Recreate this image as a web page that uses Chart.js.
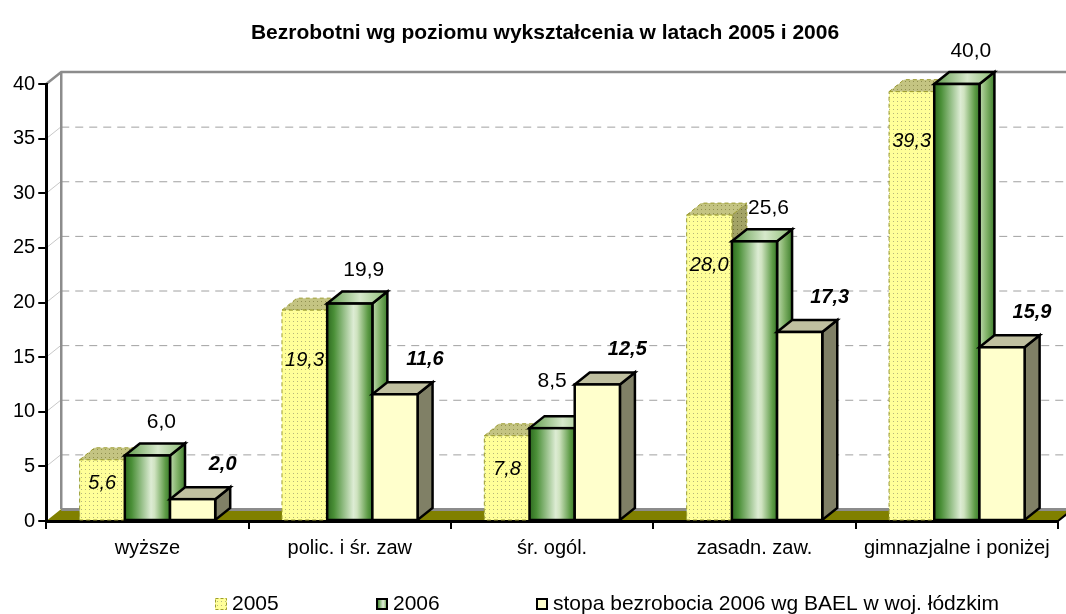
<!DOCTYPE html>
<html>
<head>
<meta charset="utf-8">
<script src="https://cdn.jsdelivr.net/npm/chart.js@4.4.0/dist/chart.umd.min.js"></script>
<style>
  html, body { margin: 0; padding: 0; background: #fff; }
  #wrap { width: 1066px; height: 614px; }
</style>
</head>
<body>
<div id="wrap"><canvas id="chart"></canvas></div>
<script>
// --- Data ---
const categories = ['wyższe', 'polic. i śr. zaw', 'śr. ogól.', 'zasadn. zaw.', 'gimnazjalne i poniżej'];
const values2005 = [5.6, 19.3, 7.8, 28.0, 39.3];
const values2006 = [6.0, 19.9, 8.5, 25.6, 40.0];
const valuesBael = [2.0, 11.6, 12.5, 17.3, 15.9];
const seriesNames = ['2005', '2006', 'stopa bezrobocia 2006 wg BAEL w woj. łódzkim'];
const chartTitle = 'Bezrobotni wg poziomu wykształcenia w latach 2005 i 2006';
const yMin = 0, yMax = 40, yStep = 5;

// --- Look ---
const FONT = "'Liberation Sans', Arial, sans-serif";
const DX = 15, DY = 12;          // 3D depth offset
const legendX = [215, 376, 536]; // legend item left edges
const legendY = 604;

function fmt(v) {
    return v.toFixed(1).replace('.', ',');
}

function dotCanvas(bg, dot) {
    const c = document.createElement('canvas');
    c.width = 4; c.height = 4;
    const g = c.getContext('2d');
    g.fillStyle = bg;
    g.fillRect(0, 0, 4, 4);
    g.fillStyle = dot;
    g.fillRect(1, 1, 1, 1);
    return c;
}

const dotsFront = dotCanvas('#FFFF99', '#B5B57A');
const dotsTop = dotCanvas('#C4C482', '#8F8F50');
const dotsSide = dotCanvas('#A3A366', '#6F6F3A');

function greenFront(ctx, x0, x1) {
    const g = ctx.createLinearGradient(x0, 0, x1, 0);
    g.addColorStop(0, '#2E6B20');
    g.addColorStop(0.15, '#4A8F37');
    g.addColorStop(0.58, '#DDECD4');
    g.addColorStop(0.66, '#CFE3C0');
    g.addColorStop(0.9, '#5C9A45');
    g.addColorStop(1, '#3A7A2A');
    return g;
}
function greenTop(ctx, x0, x1) {
    const g = ctx.createLinearGradient(x0, 0, x1, 0);
    g.addColorStop(0, '#5E9A48');
    g.addColorStop(0.55, '#D6E8CB');
    g.addColorStop(1, '#8CBC74');
    return g;
}
function greenSide(ctx, x0, x1) {
    const g = ctx.createLinearGradient(x0, 0, x1, 0);
    g.addColorStop(0, '#BFDAAE');
    g.addColorStop(0.5, '#7FB066');
    g.addColorStop(1, '#3F7F2D');
    return g;
}

function poly(ctx, pts) {
    ctx.beginPath();
    ctx.moveTo(pts[0][0], pts[0][1]);
    for (let i = 1; i < pts.length; i++) ctx.lineTo(pts[i][0], pts[i][1]);
    ctx.closePath();
}

// back wall, grid lines and floor
const wallPlugin = {
    id: 'wall',
    beforeDraw(chart) {
        const { ctx, chartArea: a, scales: { y } } = chart;
        ctx.save();
        ctx.fillStyle = '#fff';
        ctx.fillRect(0, 0, chart.width, chart.height);

        // floor
        ctx.fillStyle = '#808000';
        poly(ctx, [[a.left, a.bottom], [a.left + DX, a.bottom - DY], [a.right + DX, a.bottom - DY], [a.right, a.bottom]]);
        ctx.fill();

        const yTop = y.getPixelForValue(yMax);
        y.ticks.forEach(t => {
            const py = y.getPixelForValue(t.value);
            if (t.value === yMin || t.value === yMax) return;
            ctx.strokeStyle = '#c8c8c8';
            ctx.lineWidth = 1;
            ctx.setLineDash([]);
            ctx.beginPath();
            ctx.moveTo(a.left, py);
            ctx.lineTo(a.left + DX, py - DY);
            ctx.stroke();
            ctx.strokeStyle = '#a0a0a0';
            ctx.setLineDash([8, 6]);
            ctx.beginPath();
            ctx.moveTo(a.left + DX, py - DY + 0.5);
            ctx.lineTo(chart.width, py - DY + 0.5);
            ctx.stroke();
        });
        ctx.setLineDash([]);

        // wall outline
        ctx.strokeStyle = '#8c8c8c';
        ctx.lineWidth = 2.5;
        ctx.beginPath();
        ctx.moveTo(a.left, yTop);
        ctx.lineTo(a.left + DX, yTop - DY);
        ctx.lineTo(chart.width, yTop - DY);
        ctx.moveTo(a.left + DX, yTop - DY);
        ctx.lineTo(a.left + DX, a.bottom - DY);
        ctx.stroke();
        ctx.lineWidth = 3;
        ctx.beginPath();
        ctx.moveTo(a.left + DX, a.bottom - DY + 0.5);
        ctx.lineTo(chart.width, a.bottom - DY + 0.5);
        ctx.stroke();

        // floor right edge
        ctx.strokeStyle = '#000';
        ctx.lineWidth = 2;
        ctx.beginPath();
        ctx.moveTo(a.right, a.bottom);
        ctx.lineTo(a.right + DX, a.bottom - DY);
        ctx.stroke();
        ctx.restore();
    }
};

function drawBox(ctx, ds, x0, x1, yt, yb) {
    const side = [[x1, yt], [x1 + DX, yt - DY], [x1 + DX, yb - DY], [x1, yb]];
    const top = [[x0, yt], [x0 + DX, yt - DY], [x1 + DX, yt - DY], [x1, yt]];
    let fills, stroke, width, dash;
    if (ds === 0) {
        fills = [ctx.createPattern(dotsSide, 'repeat'), ctx.createPattern(dotsTop, 'repeat'), ctx.createPattern(dotsFront, 'repeat')];
        stroke = '#9C9C30'; width = 1; dash = [4, 3];
    } else if (ds === 1) {
        fills = [greenSide(ctx, x1, x1 + DX), greenTop(ctx, x0, x1 + DX), greenFront(ctx, x0, x1)];
        stroke = '#000'; width = 2.5; dash = [];
    } else {
        fills = ['#808066', '#C0C0A0', '#FFFFCC'];
        stroke = '#000'; width = 2.5; dash = [];
    }
    ctx.lineJoin = 'miter';
    ctx.strokeStyle = stroke;
    ctx.lineWidth = width;
    ctx.setLineDash(dash);
    [side, top].forEach((p, k) => {
        poly(ctx, p);
        ctx.fillStyle = fills[k];
        ctx.fill();
        ctx.stroke();
    });
    ctx.fillStyle = fills[2];
    ctx.fillRect(x0, yt, x1 - x0, yb - yt);
    ctx.strokeRect(x0, yt, x1 - x0, yb - yt);
    ctx.setLineDash([]);
}

// 3D bars and their value labels
const barsPlugin = {
    id: 'bars3d',
    afterDatasetsDraw(chart) {
        const ctx = chart.ctx;
        const metas = [0, 1, 2].map(i => chart.getDatasetMeta(i));
        ctx.save();
        for (let i = 0; i < categories.length; i++) {
            metas.forEach((m, d) => {
                const el = m.data[i];
                const x0 = el.x - el.width / 2, x1 = el.x + el.width / 2;
                drawBox(ctx, d, x0, x1, el.y, el.base);
            });
        }
        ctx.fillStyle = '#000';
        ctx.textAlign = 'center';
        ctx.textBaseline = 'middle';
        for (let i = 0; i < categories.length; i++) {
            const a = metas[0].data[i], b = metas[1].data[i], c = metas[2].data[i];
            ctx.font = 'italic 20px ' + FONT;
            ctx.fillText(fmt(values2005[i]), a.x, a.y + Math.min(0.4 * (a.base - a.y), 50));
            ctx.font = '21px ' + FONT;
            if (valuesBael[i] > values2006[i]) {
                ctx.fillText(fmt(values2006[i]), b.x, b.y - DY - 35);
            } else {
                ctx.fillText(fmt(values2006[i]), b.x + 14, b.y - DY - 21);
            }
            ctx.font = 'italic bold 20px ' + FONT;
            ctx.fillText(fmt(valuesBael[i]), c.x + 30, c.y - DY - 23);
        }
        ctx.restore();
    }
};

// title and legend
const textPlugin = {
    id: 'texts',
    afterDraw(chart) {
        const ctx = chart.ctx;
        ctx.save();
        ctx.fillStyle = '#000';
        ctx.textBaseline = 'middle';
        ctx.textAlign = 'center';
        ctx.font = 'bold 21px ' + FONT;
        ctx.fillText(chartTitle, 545, 33);

        ctx.textAlign = 'left';
        ctx.font = '21px ' + FONT;
        seriesNames.forEach((name, k) => {
            const bx = legendX[k], by = legendY - 6;
            if (k === 0) {
                ctx.fillStyle = ctx.createPattern(dotsFront, 'repeat');
                ctx.fillRect(bx, by, 12, 12);
                ctx.strokeStyle = '#9C9C30';
                ctx.lineWidth = 1;
                ctx.setLineDash([3, 2]);
                ctx.strokeRect(bx + 0.5, by + 0.5, 11, 11);
                ctx.setLineDash([]);
            } else {
                ctx.fillStyle = k === 1 ? greenFront(ctx, bx, bx + 12) : '#FFFFCC';
                ctx.fillRect(bx, by, 12, 12);
                ctx.strokeStyle = '#000';
                ctx.lineWidth = 2;
                ctx.strokeRect(bx + 1, by + 1, 10, 10);
            }
            ctx.fillStyle = '#000';
            ctx.fillText(name, bx + 17, legendY);
        });
        ctx.restore();
    }
};

new Chart(document.getElementById('chart'), {
    type: 'bar',
    data: {
        labels: categories,
        datasets: [
            { label: seriesNames[0], data: values2005 },
            { label: seriesNames[1], data: values2006 },
            { label: seriesNames[2], data: valuesBael }
        ]
    },
    options: {
        responsive: true,
        maintainAspectRatio: false,
        animation: false,
        datasets: {
            bar: {
                backgroundColor: 'rgba(0,0,0,0)',
                borderWidth: 0,
                categoryPercentage: 0.67,
                barPercentage: 1
            }
        },
        layout: { padding: { left: 10, right: 8, top: 84, bottom: 47 } },
        plugins: {
            legend: { display: false },
            title: { display: false },
            tooltip: { enabled: false }
        },
        scales: {
            x: {
                grid: { drawOnChartArea: false, drawTicks: true, tickLength: 8, color: '#000', lineWidth: 2, offset: true },
                border: { display: true, color: '#000', width: 3 },
                ticks: { color: '#000', font: { family: FONT, size: 20 }, padding: 7, maxRotation: 0, autoSkip: false }
            },
            y: {
                min: yMin,
                max: yMax,
                ticks: { stepSize: yStep, color: '#000', font: { family: FONT, size: 20 }, padding: 3 },
                grid: { drawOnChartArea: false, drawTicks: true, tickLength: 8, color: '#000', lineWidth: 2 },
                border: { display: true, color: '#000', width: 3 }
            }
        }
    },
    plugins: [wallPlugin, barsPlugin, textPlugin]
});
</script>
</body>
</html>
